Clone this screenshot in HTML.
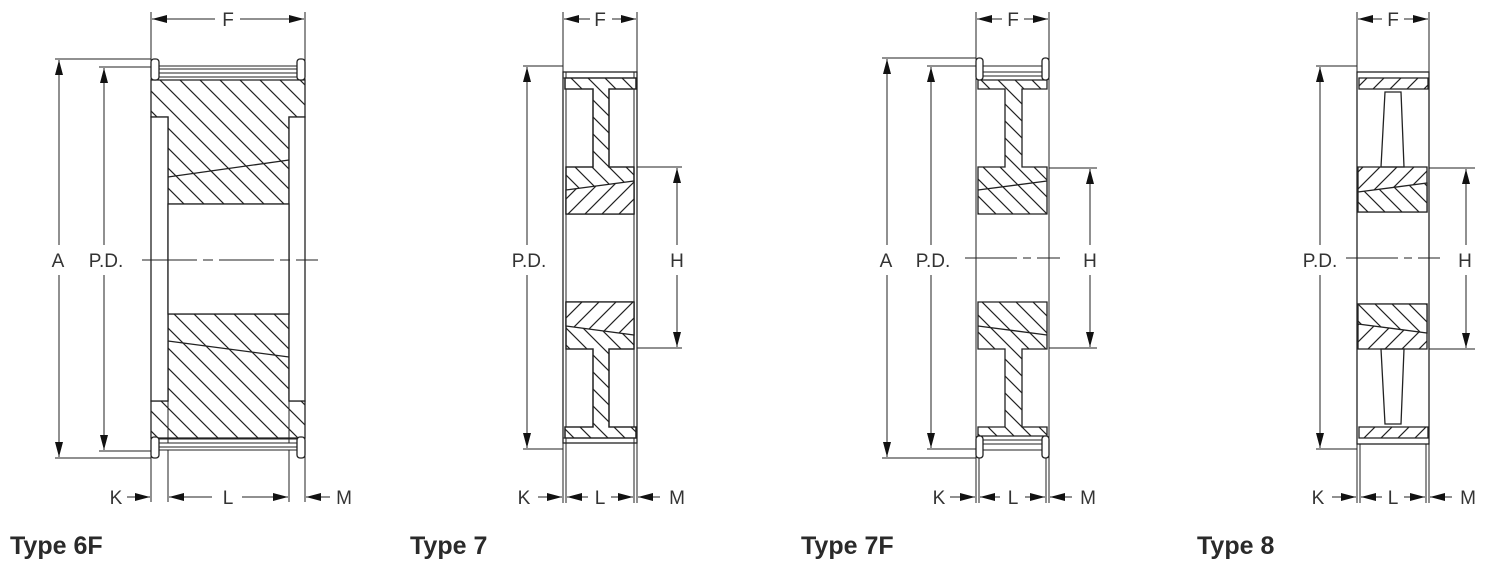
<!DOCTYPE html>
<html><head><meta charset="utf-8">
<style>
html,body{margin:0;padding:0;background:#fff;}
svg{display:block;}
.o{stroke:#222;stroke-width:1.3;}
.t{stroke:#222;stroke-width:1;}
.lbl{font-family:"Liberation Sans",sans-serif;font-size:19px;fill:#333;text-anchor:middle;}
.ttl{font-family:"Liberation Sans",sans-serif;font-size:25px;font-weight:bold;fill:#2a2a2a;}
</style></head>
<body>
<svg width="1507" height="572" viewBox="0 0 1507 572" xmlns="http://www.w3.org/2000/svg">
<defs>
<pattern id="hb" patternUnits="userSpaceOnUse" x="0" y="0" width="20" height="20"><path d="M-1,-1 L21,21 M-1,19 L1,21 M19,-1 L21,1" stroke="#222" stroke-width="1.2" fill="none"/></pattern>
<pattern id="hf" patternUnits="userSpaceOnUse" x="0" y="0" width="20" height="20"><path d="M-1,21 L21,-1 M-1,1 L1,-1 M19,21 L21,19" stroke="#222" stroke-width="1.2" fill="none"/></pattern>
<pattern id="hb2" patternUnits="userSpaceOnUse" x="0" y="0" width="17" height="17"><path d="M-1,-1 L18,18 M-1,16 L1,18 M16,-1 L18,1" stroke="#222" stroke-width="1.2" fill="none"/></pattern>
<pattern id="hf2" patternUnits="userSpaceOnUse" x="0" y="0" width="17" height="17"><path d="M-1,18 L18,-1 M-1,1 L1,-1 M16,18 L18,16" stroke="#222" stroke-width="1.2" fill="none"/></pattern>
<marker id="a" markerUnits="userSpaceOnUse" markerWidth="16" markerHeight="10" refX="15" refY="4" orient="auto"><path d="M0,0 L15,4 L0,8 z" fill="#111"/></marker>
</defs>

<!-- ================= TYPE 6F ================= -->
<g>
<line class="t" x1="151" y1="12" x2="151" y2="502"/>
<line class="t" x1="305" y1="12" x2="305" y2="502"/>
<line class="t" x1="168" y1="401" x2="168" y2="502"/>
<line class="t" x1="289" y1="401" x2="289" y2="502"/>
<line class="t" x1="215" y1="19" x2="152" y2="19" marker-end="url(#a)"/>
<line class="t" x1="240" y1="19" x2="304" y2="19" marker-end="url(#a)"/>
<text class="lbl" x="228" y="26">F</text>
<polygon points="151,80 305,80 305,117 289,117 289,204 168,204 168,117 151,117" fill="url(#hb)" class="o"/>
<polygon points="168,314 289,314 289,401 305,401 305,438 151,438 151,401 168,401" fill="url(#hb)" class="o"/>
<rect x="151" y="117" width="17" height="284" fill="#fff" class="o"/>
<rect x="289" y="117" width="16" height="284" fill="#fff" class="o"/>
<rect x="168" y="204" width="121" height="110" fill="#fff" class="o"/>
<line class="o" x1="168" y1="177" x2="289" y2="160"/>
<line class="o" x1="168" y1="341" x2="289" y2="357"/>
<rect x="156" y="66" width="145" height="7" fill="#fff" class="t"/>
<line class="t" x1="156" y1="69" x2="301" y2="69"/>
<line class="t" x1="156" y1="77" x2="301" y2="77"/>
<rect x="151" y="59" width="8" height="21" rx="3" fill="#fff" class="o"/>
<rect x="297" y="59" width="8" height="21" rx="3" fill="#fff" class="o"/>
<rect x="156" y="443" width="145" height="7" fill="#fff" class="t"/>
<line class="t" x1="156" y1="447" x2="301" y2="447"/>
<line class="t" x1="156" y1="439" x2="301" y2="439"/>
<rect x="151" y="437" width="8" height="21" rx="3" fill="#fff" class="o"/>
<rect x="297" y="437" width="8" height="21" rx="3" fill="#fff" class="o"/>
<line class="t" x1="55" y1="59" x2="151" y2="59"/>
<line class="t" x1="55" y1="458" x2="151" y2="458"/>
<line class="t" x1="99" y1="67" x2="151" y2="67"/>
<line class="t" x1="99" y1="451" x2="151" y2="451"/>
<line class="t" x1="59" y1="245" x2="59" y2="60" marker-end="url(#a)"/>
<line class="t" x1="59" y1="275" x2="59" y2="457" marker-end="url(#a)"/>
<line class="t" x1="104" y1="245" x2="104" y2="68" marker-end="url(#a)"/>
<line class="t" x1="104" y1="275" x2="104" y2="450" marker-end="url(#a)"/>
<text class="lbl" x="58" y="267">A</text>
<text class="lbl" x="106" y="267">P.D.</text>
<line class="t" x1="142" y1="260" x2="318" y2="260" stroke-dasharray="55,6,10,6"/>
<line class="t" x1="127" y1="497" x2="150" y2="497" marker-end="url(#a)"/>
<line class="t" x1="212" y1="497" x2="169" y2="497" marker-end="url(#a)"/>
<line class="t" x1="242" y1="497" x2="288" y2="497" marker-end="url(#a)"/>
<line class="t" x1="330" y1="497" x2="306" y2="497" marker-end="url(#a)"/>
<text class="lbl" x="116" y="504">K</text>
<text class="lbl" x="228" y="504">L</text>
<text class="lbl" x="344" y="504">M</text>
<text class="ttl" x="10" y="554">Type 6F</text>
</g>

<!-- ================= TYPE 7 ================= -->
<g>
<line class="t" x1="563" y1="12" x2="563" y2="503"/>
<line class="t" x1="637" y1="12" x2="637" y2="503"/>
<line class="t" x1="566" y1="443" x2="566" y2="503"/>
<line class="t" x1="634" y1="443" x2="634" y2="503"/>
<line class="t" x1="590" y1="19" x2="564" y2="19" marker-end="url(#a)"/>
<line class="t" x1="612" y1="19" x2="636" y2="19" marker-end="url(#a)"/>
<text class="lbl" x="600" y="26">F</text>
<rect x="563" y="72" width="74" height="371" class="o" fill="#fff"/>
<line class="t" x1="566" y1="72" x2="566" y2="443"/>
<line class="t" x1="634" y1="72" x2="634" y2="443"/>
<line class="t" x1="563" y1="78" x2="637" y2="78"/>
<line class="t" x1="563" y1="438" x2="637" y2="438"/>
<polygon points="565,78 636,78 636,89 609,89 609,167 634,167 634,214 566,214 566,167 593,167 593,89 565,89" fill="#fff" class="o"/>
<polygon points="565,78 636,78 636,89 609,89 609,167 634,167 634,214 566,214 566,167 593,167 593,89 565,89" fill="url(#hb2)" class="o"/>
<polygon points="565,438 636,438 636,427 609,427 609,349 634,349 634,302 566,302 566,349 593,349 593,427 565,427" fill="#fff" class="o"/>
<polygon points="565,438 636,438 636,427 609,427 609,349 634,349 634,302 566,302 566,349 593,349 593,427 565,427" fill="url(#hb2)" class="o"/>
<polygon points="566,190 634,181 634,214 566,214" fill="#fff"/>
<polygon points="566,190 634,181 634,214 566,214" fill="url(#hf2)" class="o"/>
<polygon points="566,326 634,335 634,302 566,302" fill="#fff"/>
<polygon points="566,326 634,335 634,302 566,302" fill="url(#hf2)" class="o"/>
<line class="t" x1="523" y1="66" x2="563" y2="66"/>
<line class="t" x1="523" y1="449" x2="563" y2="449"/>
<line class="t" x1="527" y1="245" x2="527" y2="67" marker-end="url(#a)"/>
<line class="t" x1="527" y1="275" x2="527" y2="448" marker-end="url(#a)"/>
<text class="lbl" x="529" y="267">P.D.</text>
<line class="t" x1="637" y1="167" x2="682" y2="167"/>
<line class="t" x1="637" y1="348" x2="682" y2="348"/>
<line class="t" x1="677" y1="245" x2="677" y2="168" marker-end="url(#a)"/>
<line class="t" x1="677" y1="275" x2="677" y2="347" marker-end="url(#a)"/>
<text class="lbl" x="677" y="267">H</text>
<line class="t" x1="538" y1="497" x2="562" y2="497" marker-end="url(#a)"/>
<line class="t" x1="588" y1="497" x2="567" y2="497" marker-end="url(#a)"/>
<line class="t" x1="611" y1="497" x2="633" y2="497" marker-end="url(#a)"/>
<line class="t" x1="660" y1="497" x2="638" y2="497" marker-end="url(#a)"/>
<text class="lbl" x="524" y="504">K</text>
<text class="lbl" x="600" y="504">L</text>
<text class="lbl" x="677" y="504">M</text>
<text class="ttl" x="410" y="554">Type 7</text>
</g>

<!-- ================= TYPE 7F ================= -->
<g>
<line class="t" x1="976" y1="12" x2="976" y2="503"/>
<line class="t" x1="1049" y1="12" x2="1049" y2="503"/>
<line class="t" x1="979" y1="458" x2="979" y2="503"/>
<line class="t" x1="1046" y1="458" x2="1046" y2="503"/>
<line class="t" x1="1002" y1="19" x2="977" y2="19" marker-end="url(#a)"/>
<line class="t" x1="1024" y1="19" x2="1048" y2="19" marker-end="url(#a)"/>
<text class="lbl" x="1013" y="26">F</text>
<line class="t" x1="976" y1="80" x2="976" y2="436"/>
<line class="t" x1="1049" y1="80" x2="1049" y2="436"/>
<polygon points="978,80 1047,80 1047,89 1022,89 1022,167 1047,167 1047,214 978,214 978,167 1005,167 1005,89 978,89" fill="url(#hb2)" class="o"/>
<polygon points="978,436 1047,436 1047,427 1022,427 1022,349 1047,349 1047,302 978,302 978,349 1005,349 1005,427 978,427" fill="url(#hb2)" class="o"/>
<line class="o" x1="978" y1="190" x2="1047" y2="181"/>
<line class="o" x1="978" y1="326" x2="1047" y2="335"/>
<rect x="981" y="66" width="64" height="6" fill="#fff" class="t"/>
<line class="t" x1="981" y1="76" x2="1045" y2="76"/>
<rect x="976" y="58" width="7" height="22" rx="3" fill="#fff" class="o"/>
<rect x="1042" y="58" width="7" height="22" rx="3" fill="#fff" class="o"/>
<rect x="981" y="444" width="64" height="6" fill="#fff" class="t"/>
<line class="t" x1="981" y1="440" x2="1045" y2="440"/>
<rect x="976" y="436" width="7" height="22" rx="3" fill="#fff" class="o"/>
<rect x="1042" y="436" width="7" height="22" rx="3" fill="#fff" class="o"/>
<line class="t" x1="882" y1="58" x2="976" y2="58"/>
<line class="t" x1="882" y1="458" x2="976" y2="458"/>
<line class="t" x1="927" y1="66" x2="976" y2="66"/>
<line class="t" x1="927" y1="449" x2="976" y2="449"/>
<line class="t" x1="887" y1="245" x2="887" y2="59" marker-end="url(#a)"/>
<line class="t" x1="887" y1="275" x2="887" y2="457" marker-end="url(#a)"/>
<line class="t" x1="931" y1="245" x2="931" y2="67" marker-end="url(#a)"/>
<line class="t" x1="931" y1="275" x2="931" y2="448" marker-end="url(#a)"/>
<text class="lbl" x="886" y="267">A</text>
<text class="lbl" x="933" y="267">P.D.</text>
<line class="t" x1="965" y1="258" x2="1060" y2="258" stroke-dasharray="52,6,8,6"/>
<line class="t" x1="1049" y1="168" x2="1097" y2="168"/>
<line class="t" x1="1049" y1="348" x2="1097" y2="348"/>
<line class="t" x1="1090" y1="245" x2="1090" y2="169" marker-end="url(#a)"/>
<line class="t" x1="1090" y1="275" x2="1090" y2="347" marker-end="url(#a)"/>
<text class="lbl" x="1090" y="267">H</text>
<line class="t" x1="950" y1="497" x2="975" y2="497" marker-end="url(#a)"/>
<line class="t" x1="1000" y1="497" x2="980" y2="497" marker-end="url(#a)"/>
<line class="t" x1="1025" y1="497" x2="1045" y2="497" marker-end="url(#a)"/>
<line class="t" x1="1072" y1="497" x2="1050" y2="497" marker-end="url(#a)"/>
<text class="lbl" x="939" y="504">K</text>
<text class="lbl" x="1013" y="504">L</text>
<text class="lbl" x="1088" y="504">M</text>
<text class="ttl" x="801" y="554">Type 7F</text>
</g>

<!-- ================= TYPE 8 ================= -->
<g>
<line class="t" x1="1357" y1="12" x2="1357" y2="503"/>
<line class="t" x1="1429" y1="12" x2="1429" y2="503"/>
<line class="t" x1="1360" y1="443" x2="1360" y2="503"/>
<line class="t" x1="1426" y1="443" x2="1426" y2="503"/>
<line class="t" x1="1382" y1="19" x2="1358" y2="19" marker-end="url(#a)"/>
<line class="t" x1="1404" y1="19" x2="1428" y2="19" marker-end="url(#a)"/>
<text class="lbl" x="1393" y="26">F</text>
<rect x="1357" y="72" width="72" height="372" class="o" fill="#fff"/>
<polygon points="1359,78 1428,78 1428,89 1359,89" fill="url(#hf2)" class="o"/>
<polygon points="1359,438 1428,438 1428,427 1359,427" fill="url(#hf2)" class="o"/>
<polygon points="1385,92 1401,92 1404,167 1381,167" class="o" fill="#fff"/>
<polygon points="1385,424 1401,424 1404,349 1381,349" class="o" fill="#fff"/>
<polygon points="1358,167 1427,167 1427,212 1358,212" fill="url(#hf2)" class="o"/>
<polygon points="1358,349 1427,349 1427,304 1358,304" fill="url(#hf2)" class="o"/>
<polygon points="1358,192 1427,183 1427,212 1358,212" fill="#fff"/>
<polygon points="1358,192 1427,183 1427,212 1358,212" fill="url(#hb2)" class="o"/>
<polygon points="1358,324 1427,333 1427,304 1358,304" fill="#fff"/>
<polygon points="1358,324 1427,333 1427,304 1358,304" fill="url(#hb2)" class="o"/>
<line class="t" x1="1316" y1="66" x2="1357" y2="66"/>
<line class="t" x1="1316" y1="449" x2="1357" y2="449"/>
<line class="t" x1="1320" y1="245" x2="1320" y2="67" marker-end="url(#a)"/>
<line class="t" x1="1320" y1="275" x2="1320" y2="448" marker-end="url(#a)"/>
<text class="lbl" x="1320" y="267">P.D.</text>
<line class="t" x1="1346" y1="258" x2="1440" y2="258" stroke-dasharray="52,6,8,6"/>
<line class="t" x1="1429" y1="168" x2="1475" y2="168"/>
<line class="t" x1="1429" y1="349" x2="1475" y2="349"/>
<line class="t" x1="1466" y1="245" x2="1466" y2="169" marker-end="url(#a)"/>
<line class="t" x1="1466" y1="275" x2="1466" y2="348" marker-end="url(#a)"/>
<text class="lbl" x="1465" y="267">H</text>
<line class="t" x1="1332" y1="497" x2="1356" y2="497" marker-end="url(#a)"/>
<line class="t" x1="1382" y1="497" x2="1361" y2="497" marker-end="url(#a)"/>
<line class="t" x1="1404" y1="497" x2="1425" y2="497" marker-end="url(#a)"/>
<line class="t" x1="1452" y1="497" x2="1430" y2="497" marker-end="url(#a)"/>
<text class="lbl" x="1318" y="504">K</text>
<text class="lbl" x="1393" y="504">L</text>
<text class="lbl" x="1468" y="504">M</text>
<text class="ttl" x="1197" y="554">Type 8</text>
</g>
</svg>
</body></html>
